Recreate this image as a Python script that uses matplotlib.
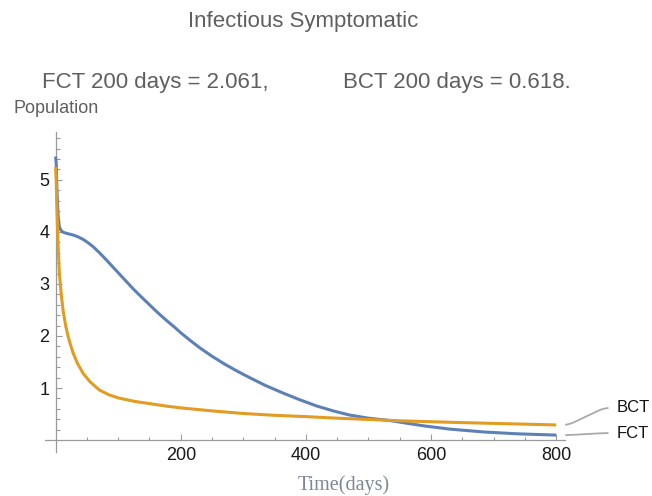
import matplotlib
matplotlib.use("Agg")
import matplotlib.pyplot as plt
from matplotlib.ticker import FixedLocator

# infectious symptomatic population over time, two control strategies
fct_days = [0, 1, 2, 3, 4, 5, 6, 8, 11, 15, 20, 28, 36, 44, 52, 60, 70, 80,
            90, 100, 112, 124, 137, 150, 163, 177, 190, 200, 215, 230, 250,
            270, 290, 310, 335, 364, 390, 417, 445, 470, 500, 534, 560, 590,
            630, 684, 737, 800]
fct_pop = [5.45, 5.3, 4.85, 4.55, 4.32, 4.18, 4.1, 4.04, 4.0, 3.98, 3.965,
           3.94, 3.905, 3.855, 3.79, 3.715, 3.6, 3.475, 3.345, 3.215, 3.06,
           2.905, 2.75, 2.6, 2.45, 2.3, 2.17, 2.061, 1.915, 1.775, 1.61,
           1.46, 1.325, 1.2, 1.05, 0.9, 0.775, 0.655, 0.555, 0.48, 0.42,
           0.375, 0.325, 0.27, 0.21, 0.155, 0.12, 0.095]

bct_days = [0, 1, 2, 4, 6, 9, 12, 16, 20, 24, 28, 35, 44, 55, 70, 85, 100,
            125, 150, 175, 200, 250, 300, 350, 400, 450, 500, 550, 600, 650,
            700, 750, 800]
bct_pop = [5.25, 4.95, 4.45, 3.72, 3.2, 2.8, 2.48, 2.2, 1.99, 1.82, 1.67,
           1.47, 1.28, 1.12, 0.96, 0.87, 0.81, 0.745, 0.7, 0.655, 0.618, 0.56,
           0.51, 0.475, 0.45, 0.42, 0.395, 0.37, 0.352, 0.335, 0.32, 0.305,
           0.29]

series = [("FCT", fct_days, fct_pop, "#5e81b5"),
          ("BCT", bct_days, bct_pop, "#e19c24")]
label_offsets = {"FCT": 2, "BCT": 17}

x_major = [200, 400, 600, 800]
x_minor = [d for d in range(50, 801, 50) if d not in x_major]
y_major = [1, 2, 3, 4, 5]
y_minor = [round(0.2 * k, 1) for k in range(1, 30) if k % 5]

sans = "Liberation Sans"
grey_txt = "#5f5f5f"
axis_grey = "#9a9a9a"

fig = plt.figure(figsize=(6.52, 4.96), dpi=100)
ax = fig.add_axes([0.069, 0.0887, 0.7975, 0.6452])

for name, days, pop, col in series:
    ax.plot(days, pop, color=col, lw=2.2, solid_capstyle="butt",
            solid_joinstyle="round", zorder=3)

ax.set_xlim(-17, 814)
ax.set_ylim(-0.23, 5.92)

for side in ("top", "right"):
    ax.spines[side].set_visible(False)
for side in ("left", "bottom"):
    ax.spines[side].set_position(("data", 0))
    ax.spines[side].set_color(axis_grey)
    ax.spines[side].set_linewidth(0.9)

ax.xaxis.set_major_locator(FixedLocator(x_major))
ax.xaxis.set_minor_locator(FixedLocator(x_minor))
ax.yaxis.set_major_locator(FixedLocator(y_major))
ax.yaxis.set_minor_locator(FixedLocator(y_minor))
ax.tick_params(which="both", direction="in", color=axis_grey, width=0.8,
               labelsize=13, labelcolor="#1a1a1a")
ax.tick_params(axis="x", which="major", length=4, pad=5)
ax.tick_params(axis="x", which="minor", length=2.5)
ax.tick_params(axis="y", which="major", length=4.5, pad=4.5)
ax.tick_params(axis="y", which="minor", length=2.8)
for lab in ax.get_xticklabels() + ax.get_yticklabels():
    lab.set_fontfamily(sans)

# callout labels at the right end of each curve
for name, days, pop, col in series:
    ax.annotate(name, xy=(days[-1], pop[-1]), xycoords="data",
                xytext=(60, label_offsets[name]), textcoords="offset pixels",
                va="center", ha="left", fontsize=12, family=sans,
                color="#111111", annotation_clip=False,
                arrowprops=dict(arrowstyle="-", color="#aaaaaa", lw=1.3,
                                shrinkA=4, shrinkB=7, relpos=(0, 0.5),
                                connectionstyle="arc,angleA=180,angleB=0,"
                                                "armA=12,armB=12,rad=6"))

fig.text(0.4655, 0.9456, "Infectious Symptomatic", ha="center",
         va="baseline", fontsize=16, family=sans, color=grey_txt)
fig.text(0.0644, 0.8226, "FCT 200 days = 2.061,", ha="left", va="baseline",
         fontsize=16, family=sans, color=grey_txt)
fig.text(0.526, 0.8226, "BCT 200 days = 0.618.", ha="left", va="baseline",
         fontsize=16, family=sans, color=grey_txt)
fig.text(0.02, 0.7722, "Population", ha="left", va="baseline",
         fontsize=13, family=sans, color=grey_txt)
fig.text(0.5276, 0.0121, "Time(days)", ha="center", va="baseline",
         fontsize=14.5, family="Liberation Serif", color="#7d8794")

fig.savefig("out.png", dpi=100)
